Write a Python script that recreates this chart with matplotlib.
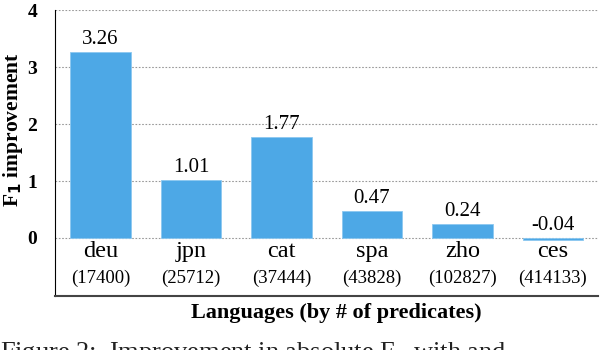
import matplotlib.pyplot as plt
import numpy as np

languages = ['deu', 'jpn', 'cat', 'spa', 'zho', 'ces']
predicates = ['17400', '25712', '37444', '43828', '102827', '414133']
improvement = [3.26, 1.01, 1.77, 0.47, 0.24, -0.04]

plt.rcParams['font.family'] = ['Liberation Serif', 'DejaVu Serif']

fig = plt.figure(figsize=(6, 3.5), dpi=100)
ax = fig.add_axes([0.092, 0.154, 0.905, 0.817])

x = np.arange(len(languages))
ax.bar(x, improvement, width=0.67, color='#4DA8E6', edgecolor='#8CC8F0', linewidth=0.6, zorder=3)

for xi, v in zip(x, improvement):
    ax.text(xi, max(v, 0) + 0.06, f'{v:.2f}', ha='center', va='bottom', fontsize=15)

for xi, lang, n in zip(x, languages, predicates):
    ax.text(xi, -0.24, lang, ha='center', va='center', fontsize=17.5)
    ax.text(xi, -0.71, f'({n})', ha='center', va='center', fontsize=13.5)

ax.set_xlim(-0.5, 5.5)
ax.set_ylim(-1.02, 4)
ax.set_yticks([0, 1, 2, 3, 4])
ax.set_yticklabels(['0', '1', '2', '3', '4'], fontweight='bold', fontsize=14)
ax.set_xticks([])
ax.tick_params(axis='y', length=0, pad=13)

for yv in [0, 1, 2, 3, 4]:
    ax.axhline(yv, color='#999999', linestyle=(0, (1.5, 1.5)), linewidth=0.8, zorder=1)

ax.spines['top'].set_visible(False)
ax.spines['right'].set_visible(False)
ax.spines['left'].set_color('black')
ax.spines['bottom'].set_color('#444444')
ax.spines['bottom'].set_linewidth(1.5)

fig.text(0.022, 0.63, 'F$_\\mathbf{1}$ improvement', rotation=90, ha='center', va='center',
         fontweight='bold', fontsize=15.5)
fig.text(0.56, 0.105, 'Languages (by # of predicates)', ha='center', va='center',
         fontweight='bold', fontsize=16)

fig.text(0.0, -0.01, 'Figure 2:  Improvement in absolute F$_1$ with and',
         ha='left', va='center', fontsize=19, color='#222222')

fig.savefig('out.png', dpi=100)
